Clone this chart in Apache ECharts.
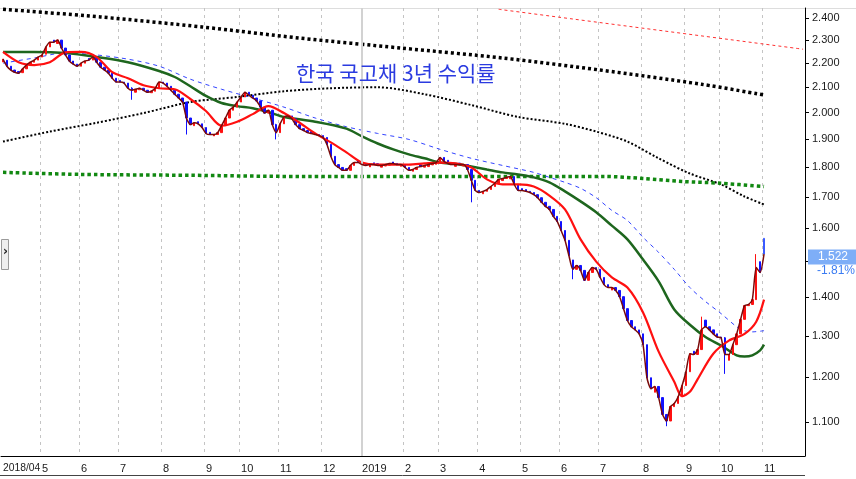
<!DOCTYPE html>
<html>
<head>
<meta charset="utf-8">
<title>한국 국고채 3년 수익률</title>
<script src="https://cdn.jsdelivr.net/npm/echarts@6/dist/echarts.min.js"></script>
<style>
  html, body { margin: 0; padding: 0; background: #fff; }
  #chart { width: 856px; height: 479px; }
</style>
</head>
<body>
<div id="chart"></div>
<script>
// 슬롯 하나 = 약 2 거래일
var slotCount = 206;
var monthStart = [0, 10, 20, 30, 41, 52, 61, 71, 82, 92, 103, 112, 122, 133, 143, 153, 164, 175, 184, 195];
var monthLabels = ['2018/04', '5', '6', '7', '8', '9', '10', '11', '12', '2019', '2', '3', '4', '5', '6', '7', '8', '9', '10', '11'];

// 종가
var closeVals = [
  2.217, 2.187, 2.171, 2.162, 2.158, 2.175, 2.192, 2.204, 2.213, 2.226,
  2.235, 2.270, 2.291, 2.291, 2.300, 2.265, 2.235, 2.209, 2.196, 2.187,
  2.200, 2.209, 2.213, 2.226, 2.204, 2.183, 2.171, 2.158, 2.137, 2.121,
  2.121, 2.117, 2.096, 2.088, 2.092, 2.096, 2.088, 2.080, 2.084, 2.096,
  2.121, 2.117, 2.104, 2.088, 2.072, 2.057, 2.041, 1.979, 1.954, 1.961,
  1.957, 1.943, 1.921, 1.917, 1.917, 1.924, 1.950, 1.979, 2.009, 2.021,
  2.041, 2.061, 2.080, 2.068, 2.057, 2.045, 2.021, 1.998, 2.009, 1.954,
  1.924, 1.957, 1.983, 1.987, 1.976, 1.954, 1.939, 1.932, 1.924, 1.921,
  1.917, 1.913, 1.906, 1.881, 1.838, 1.809, 1.799, 1.789, 1.789, 1.806,
  1.816, 1.816, 1.809, 1.806, 1.809, 1.809, 1.806, 1.806, 1.809, 1.813,
  1.813, 1.809, 1.809, 1.799, 1.789, 1.792, 1.799, 1.802, 1.806, 1.809,
  1.813, 1.816, 1.834, 1.820, 1.813, 1.809, 1.809, 1.809, 1.809, 1.792,
  1.755, 1.721, 1.714, 1.718, 1.724, 1.734, 1.745, 1.758, 1.761, 1.765,
  1.768, 1.741, 1.721, 1.721, 1.718, 1.714, 1.707, 1.697, 1.682, 1.669,
  1.659, 1.637, 1.621, 1.593, 1.563, 1.518, 1.478, 1.489, 1.475, 1.447,
  1.469, 1.483, 1.478, 1.455, 1.435, 1.427, 1.427, 1.419, 1.402, 1.370,
  1.339, 1.323, 1.315, 1.305, 1.278, 1.199, 1.174, 1.179, 1.154, 1.117,
  1.103, 1.134, 1.141, 1.156, 1.181, 1.213, 1.256, 1.254, 1.266, 1.315,
  1.323, 1.315, 1.305, 1.297, 1.295, 1.254, 1.254, 1.278, 1.305, 1.342,
  1.378, 1.381, 1.394, 1.483, 1.469, 1.522
];

// 시가
var openVals = [
  2.205, 2.212, 2.187, 2.171, 2.165, 2.160, 2.176, 2.190, 2.204, 2.213,
  2.226, 2.238, 2.270, 2.300, 2.285, 2.300, 2.265, 2.235, 2.209, 2.196,
  2.187, 2.200, 2.220, 2.213, 2.226, 2.204, 2.183, 2.171, 2.158, 2.137,
  2.128, 2.121, 2.117, 2.096, 2.080, 2.090, 2.096, 2.088, 2.078, 2.084,
  2.096, 2.121, 2.117, 2.104, 2.088, 2.072, 2.057, 2.041, 1.979, 1.950,
  1.965, 1.957, 1.943, 1.925, 1.912, 1.917, 1.924, 1.950, 1.979, 2.009,
  2.021, 2.041, 2.061, 2.080, 2.068, 2.057, 2.045, 2.021, 1.998, 2.009,
  1.954, 1.924, 1.957, 1.983, 1.987, 1.976, 1.954, 1.939, 1.932, 1.928,
  1.921, 1.917, 1.913, 1.906, 1.881, 1.838, 1.809, 1.799, 1.795, 1.789,
  1.806, 1.822, 1.816, 1.812, 1.801, 1.815, 1.812, 1.800, 1.804, 1.807,
  1.818, 1.813, 1.803, 1.809, 1.799, 1.786, 1.792, 1.808, 1.800, 1.802,
  1.808, 1.810, 1.816, 1.834, 1.824, 1.815, 1.803, 1.814, 1.804, 1.809,
  1.792, 1.755, 1.721, 1.710, 1.718, 1.724, 1.734, 1.745, 1.754, 1.761,
  1.760, 1.768, 1.741, 1.727, 1.724, 1.718, 1.714, 1.707, 1.697, 1.682,
  1.669, 1.659, 1.637, 1.621, 1.593, 1.563, 1.505, 1.478, 1.489, 1.475,
  1.447, 1.469, 1.483, 1.478, 1.455, 1.435, 1.420, 1.427, 1.419, 1.402,
  1.370, 1.339, 1.323, 1.315, 1.305, 1.278, 1.199, 1.166, 1.179, 1.154,
  1.117, 1.103, 1.134, 1.141, 1.156, 1.181, 1.213, 1.262, 1.254, 1.266,
  1.340, 1.323, 1.315, 1.305, 1.297, 1.295, 1.240, 1.254, 1.278, 1.305,
  1.342, 1.378, 1.381, 1.394, 1.500, 1.569
];

// 꼬리 [슬롯, 저가, 고가]
var wicks = [
  [33, 2.050, 2.100], [47, 1.917, 2.041], [70, 1.899, 1.957], [120, 1.682, 1.792],
  [146, 1.450, 1.505], [170, 1.092, 1.117], [179, 1.266, 1.349], [185, 1.208, 1.297],
  [193, 1.394, 1.522], [195, 1.522, 1.569]
];

// 이동평균선 [슬롯, 값]
var maRed = [
  [0, 2.248], [4, 2.204], [8, 2.192], [12, 2.204], [16, 2.246], [20, 2.248], [24, 2.226],
  [28, 2.162], [32, 2.137], [36, 2.108], [40, 2.096], [44, 2.092], [48, 2.053], [52, 2.006],
  [56, 1.950], [60, 1.965], [64, 1.994], [68, 2.025], [72, 1.998], [76, 1.961], [80, 1.921],
  [84, 1.888], [88, 1.852], [92, 1.816], [96, 1.809], [100, 1.809], [104, 1.809], [108, 1.813],
  [112, 1.816], [116, 1.813], [120, 1.799], [124, 1.758], [128, 1.741], [132, 1.741],
  [136, 1.734], [140, 1.704], [144, 1.659], [148, 1.566], [152, 1.500], [156, 1.455],
  [160, 1.427], [164, 1.360], [168, 1.261], [172, 1.190], [174, 1.157], [176, 1.167],
  [178, 1.196], [182, 1.256], [186, 1.288], [190, 1.305], [193, 1.336], [195, 1.394]
];
var maGreen = [
  [0, 2.248], [8, 2.248], [16, 2.243], [24, 2.226], [32, 2.204], [40, 2.167], [44, 2.142],
  [48, 2.104], [52, 2.065], [56, 2.037], [60, 2.025], [64, 2.017], [68, 2.002], [72, 1.983],
  [80, 1.965], [88, 1.939], [92, 1.910], [96, 1.884], [100, 1.863], [104, 1.845], [108, 1.831],
  [112, 1.816], [116, 1.811], [120, 1.802], [124, 1.792], [128, 1.782], [132, 1.775],
  [136, 1.765], [140, 1.748], [144, 1.718], [148, 1.685], [152, 1.650], [156, 1.608],
  [160, 1.566], [164, 1.506], [168, 1.444], [172, 1.368], [176, 1.328], [180, 1.297],
  [184, 1.276], [188, 1.252], [190, 1.249], [192, 1.252], [194, 1.264], [195, 1.278]
];
var maBlue = [
  [0, 2.200], [8, 2.222], [16, 2.244], [24, 2.235], [32, 2.217], [40, 2.187], [48, 2.133],
  [56, 2.092], [64, 2.057], [72, 2.021], [80, 1.979], [88, 1.946], [96, 1.921], [104, 1.899],
  [112, 1.863], [120, 1.831], [128, 1.806], [136, 1.782], [140, 1.765], [144, 1.748],
  [148, 1.728], [152, 1.697], [156, 1.656], [160, 1.624], [164, 1.572], [168, 1.527],
  [172, 1.478], [176, 1.427], [180, 1.389], [184, 1.357], [188, 1.323], [190, 1.313],
  [192, 1.310], [195, 1.313]
];
var maBlack = [
  [0, 1.891], [12, 1.928], [24, 1.961], [36, 1.998], [48, 2.041], [60, 2.061], [72, 2.084],
  [84, 2.096], [96, 2.100], [108, 2.072], [120, 2.029], [132, 1.983], [144, 1.957],
  [152, 1.928], [160, 1.891], [168, 1.831], [176, 1.778], [184, 1.741], [190, 1.701], [195, 1.675]
];
var maLong = [
  [0, 1.782], [20, 1.775], [48, 1.772], [76, 1.768], [140, 1.768], [154, 1.768],
  [164, 1.761], [174, 1.751], [184, 1.745], [195, 1.734]
];
// 추세선
var trendBlack = [
  [0, 2.441], [25, 2.405], [51, 2.359], [76, 2.309], [102, 2.265], [128, 2.222],
  [153, 2.171], [179, 2.112], [195, 2.069]
];
var trendRed = [[127, 2.441], [205, 2.260]];

var yMin = 1.031;
var yMax = 2.447;
var tickVals = [1.1, 1.2, 1.3, 1.4, 1.5, 1.6, 1.7, 1.8, 1.9, 2.0, 2.1, 2.2, 2.3, 2.4];
var labelVals = [1.1, 1.2, 1.3, 1.4, 1.6, 1.7, 1.8, 1.9, 2.0, 2.1, 2.2, 2.3, 2.4];
var lastClose = 1.522;
var lastChange = '-1.81%';

// 로그 눈금
function lg(v) { return Math.log10(v); }
function pairs(arr) { return arr.map(function (p) { return [p[0], lg(p[1])]; }); }
function isMonth(i) { return monthStart.indexOf(i) >= 0; }

var xData = [];
for (var i = 0; i < slotCount; i++) xData.push('');
monthStart.forEach(function (s, k) { xData[s] = monthLabels[k]; });

var candles = closeVals.map(function (c, i) {
  var o = openVals[i];
  return [lg(o), lg(c), lg(Math.min(o, c)), lg(Math.max(o, c))];
});
wicks.forEach(function (w) {
  candles[w[0]][2] = lg(w[1]);
  candles[w[0]][3] = lg(w[2]);
});
var candleData = candles.map(function (c, i) {
  if (i === candles.length - 1) {
    return { value: c, itemStyle: { color0: '#a9c2ff', borderColor0: '#3b5bff' } };
  }
  return c;
});

function lineSeries(data, color, width, type, z) {
  return {
    type: 'line',
    data: pairs(data),
    symbol: 'none',
    smooth: 0.3,
    z: z,
    silent: true,
    lineStyle: { color: color, width: width, type: type }
  };
}

var myChart = echarts.init(document.getElementById('chart'));
var option = {
  animation: false,
  backgroundColor: '#fff',
  textStyle: { fontFamily: 'Liberation Sans, Arial, sans-serif' },
  title: {
    text: '한국 국고채 3년 수익률',
    left: 296,
    top: 63,
    padding: 0,
    textStyle: { color: '#2b3be0', fontSize: 21, fontWeight: 'normal', fontFamily: 'Noto Sans CJK KR' }
  },
  grid: { left: 0, right: 51, top: 8, bottom: 23 },
  xAxis: {
    type: 'category',
    data: xData,
    boundaryGap: true,
    axisLine: { lineStyle: { color: '#000', width: 1 } },
    axisTick: { interval: function (i) { return isMonth(i) && i > 0; }, length: 4, lineStyle: { color: '#000' } },
    axisLabel: {
      interval: function (i) { return isMonth(i); },
      showMinLabel: true,
      hideOverlap: false,
      align: 'left',
      margin: 7,
      fontSize: 11,
      color: '#1a1a1a',
      formatter: function (v, idx) { return idx === 0 ? '{s|' + v + '}' : v; },
      rich: { s: { fontSize: 10.3, color: '#1a1a1a' } }
    },
    splitLine: {
      show: true,
      interval: function (i) { return isMonth(i) && i > 0 && i !== 92; },
      lineStyle: { color: '#c4c4c4', type: [3, 4], width: 1 }
    }
  },
  yAxis: {
    type: 'value',
    position: 'right',
    min: lg(yMin),
    max: lg(yMax),
    axisLine: { show: true, lineStyle: { color: '#000' } },
    axisTick: { show: true, length: 4, customValues: tickVals.map(lg), lineStyle: { color: '#000' } },
    axisLabel: {
      customValues: labelVals.map(lg),
      margin: 7,
      fontSize: 11,
      color: '#1a1a1a',
      formatter: function (v) { return Math.pow(10, v).toFixed(3); }
    },
    splitLine: { show: false }
  },
  series: [
    lineSeries(trendRed, '#ff3030', 1, [3, 3], 1),
    lineSeries(trendBlack, '#000', 3.5, [3, 3], 1),
    lineSeries(maBlack, '#000', 2, [2, 2], 1),
    lineSeries(maLong, '#118811', 3.5, [3.5, 3], 1),
    lineSeries(maBlue, '#3344ff', 1, [4, 4], 2),
    lineSeries(maGreen, '#1e661e', 2.5, 'solid', 2),
    {
      type: 'candlestick',
      data: candleData,
      barMaxWidth: 3,
      z: 3,
      silent: true,
      itemStyle: { color: '#ff1010', color0: '#1010ff', borderColor: '#ff1010', borderColor0: '#1010ff', borderWidth: 1 }
    },
    lineSeries(maRed, '#ff1010', 2.2, 'solid', 4),
    {
      type: 'line',
      data: closeVals.map(lg),
      symbol: 'none',
      smooth: 0.2,
      z: 5,
      silent: true,
      lineStyle: { color: '#7a0a0a', width: 1.5 },
      markLine: {
        silent: true,
        symbol: 'none',
        animation: false,
        data: [
          {
            xAxis: 92,
            lineStyle: { color: '#d2d2d2', type: 'solid', width: 2 },
            label: { show: false }
          },
          {
            yAxis: lg(lastClose),
            lineStyle: { color: 'rgba(0,0,0,0)', width: 0 },
            label: {
              show: true,
              position: 'end',
              distance: 3,
              formatter: lastClose.toFixed(3),
              backgroundColor: '#7eaef7',
              color: '#fff',
              fontSize: 12,
              lineHeight: 13,
              padding: [1, 10]
            }
          }
        ]
      }
    }
  ],
  graphic: [
    { type: 'line', shape: { x1: 0, y1: 8.5, x2: 856, y2: 8.5 }, style: { stroke: '#dddddd', lineWidth: 1 }, silent: true },
    { type: 'line', shape: { x1: 0, y1: 475.5, x2: 805, y2: 475.5 }, style: { stroke: '#444', lineWidth: 1 }, silent: true },
    { type: 'text', left: 817, top: 265, style: { text: lastChange, fill: '#3b7cf2', font: '12px "Liberation Sans", Arial' }, silent: true },
    { type: 'rect', shape: { x: 1.5, y: 239.5, width: 7, height: 30 }, style: { fill: '#efefef', stroke: '#9a9a9a' }, silent: true },
    { type: 'text', left: 3, top: 246, style: { text: '›', fill: '#222', font: 'bold 12px "DejaVu Sans"' }, silent: true }
  ]
};
option && myChart.setOption(option);
</script>
</body>
</html>
